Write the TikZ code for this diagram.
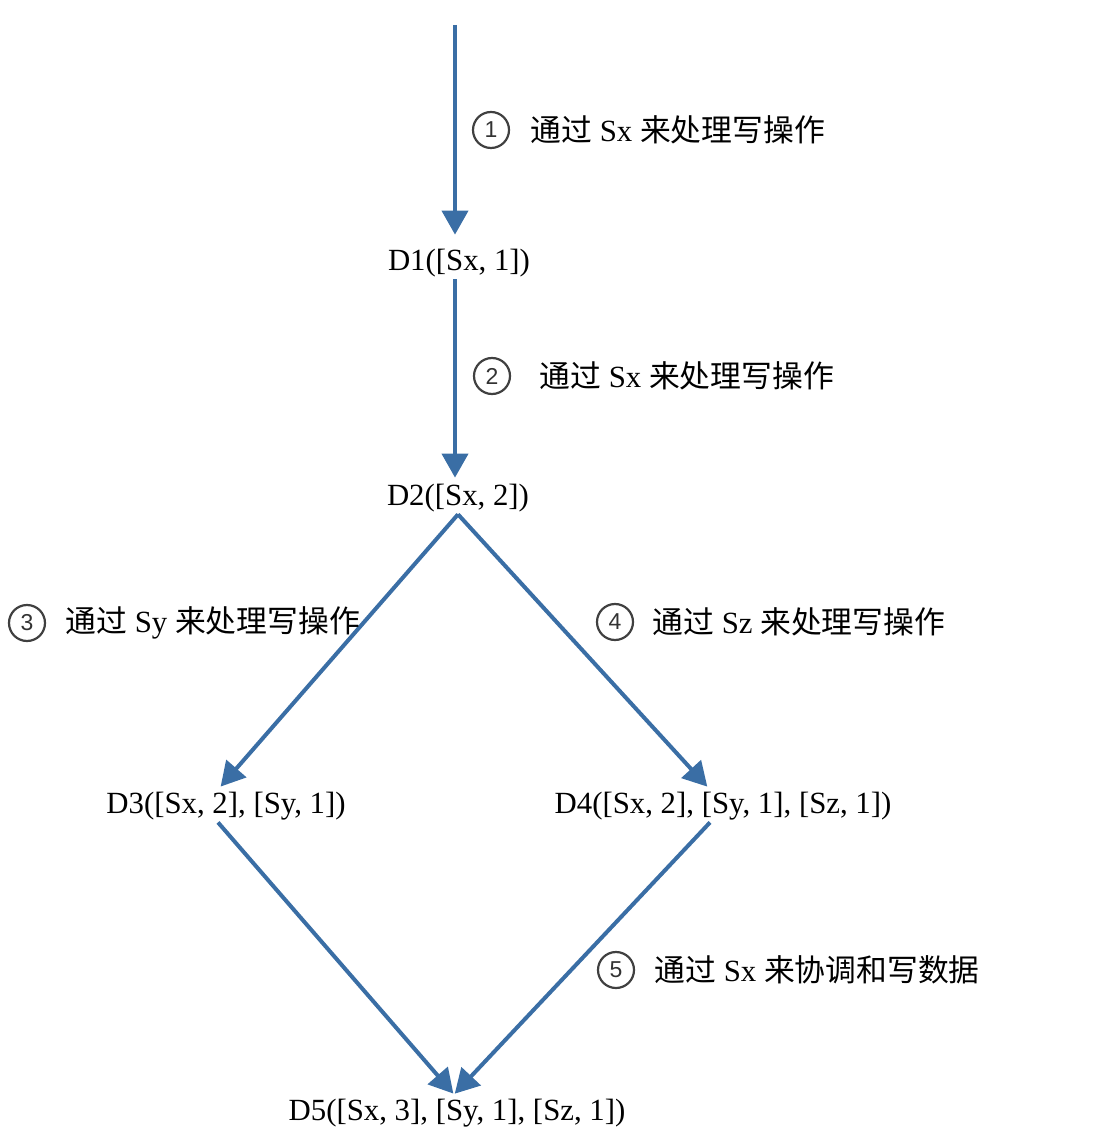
\documentclass[tikz,border=0pt]{standalone}
\usepackage{fontspec}
\setmainfont{Liberation Serif}
\newfontfamily\cjk{Noto Sans CJK SC}
\newfontfamily\numfont{Liberation Sans}
\usetikzlibrary{arrows.meta, positioning}
\definecolor{flowblue}{HTML}{3A6EA5}
\newcommand{\zh}[1]{{\cjk #1}}

\begin{document}
\begin{tikzpicture}[x=0.5pt,y=-0.5pt,
  state/.style={font=\fontsize{15.4}{18}\selectfont, inner sep=1pt},
  flow/.style={draw=flowblue, line width=2pt, shorten >=2pt, -{Triangle[length=12pt,width=13pt]}},
  num/.style={circle, draw=black!75, line width=1.1pt, minimum size=18pt, inner sep=0pt,
              text=black!80, font=\numfont\fontsize{11.5}{11.5}\selectfont},
  note/.style={font=\fontsize{15.4}{18}\selectfont, inner sep=0pt}]
\useasboundingbox (0,0) rectangle (1095,1143);
% States
\coordinate (top) at (455,25);
\node[state] (d1) at (459,263) {D1([Sx, 1])};
\node[state] (d2) at (458,498) {D2([Sx, 2])};
\node[state] (d3) at (226,806) {D3([Sx, 2], [Sy, 1])};
\node[state] (d4) at (723,806) {D4([Sx, 2], [Sy, 1], [Sz, 1])};
\node[state] (d5) at (457,1113) {D5([Sx, 3], [Sy, 1], [Sz, 1])};
% Arrows
\draw[flow, shorten >=6pt] (top) -- (top |- d1.north);
\draw[flow] (d1.south -| top) -- (top |- d2.north);
\draw[flow] (d2.south) -- ([xshift=-4pt]d3.north);
\draw[flow] (d2.south) -- ([xshift=-6.5pt]d4.north);
\draw[flow] ([xshift=-4pt]d3.south) -- ([xshift=-0.5pt]d5.north);
\draw[flow] ([xshift=-6.5pt]d4.south) -- ([xshift=-2.5pt]d5.north);
% Step labels
\node[num] (n1) at (491,130) {1};
\node[note, right=10pt of n1] {\zh{通过} Sx \zh{来处理写操作}};
\node[num] (n2) at (492,376) {2};
\node[note, right=14pt of n2] {\zh{通过} Sx \zh{来处理写操作}};
\node[num] (n3) at (27,623) {3};
\node[note, right=9.5pt of n3] {\zh{通过} Sy \zh{来处理写操作}};
\node[num] (n4) at (615,622) {4};
\node[note, right=9pt of n4] {\zh{通过} Sz \zh{来处理写操作}};
\node[num] (n5) at (616,970) {5};
\node[note, right=9.5pt of n5] {\zh{通过} Sx \zh{来协调和写数据}};
\end{tikzpicture}
\end{document}
